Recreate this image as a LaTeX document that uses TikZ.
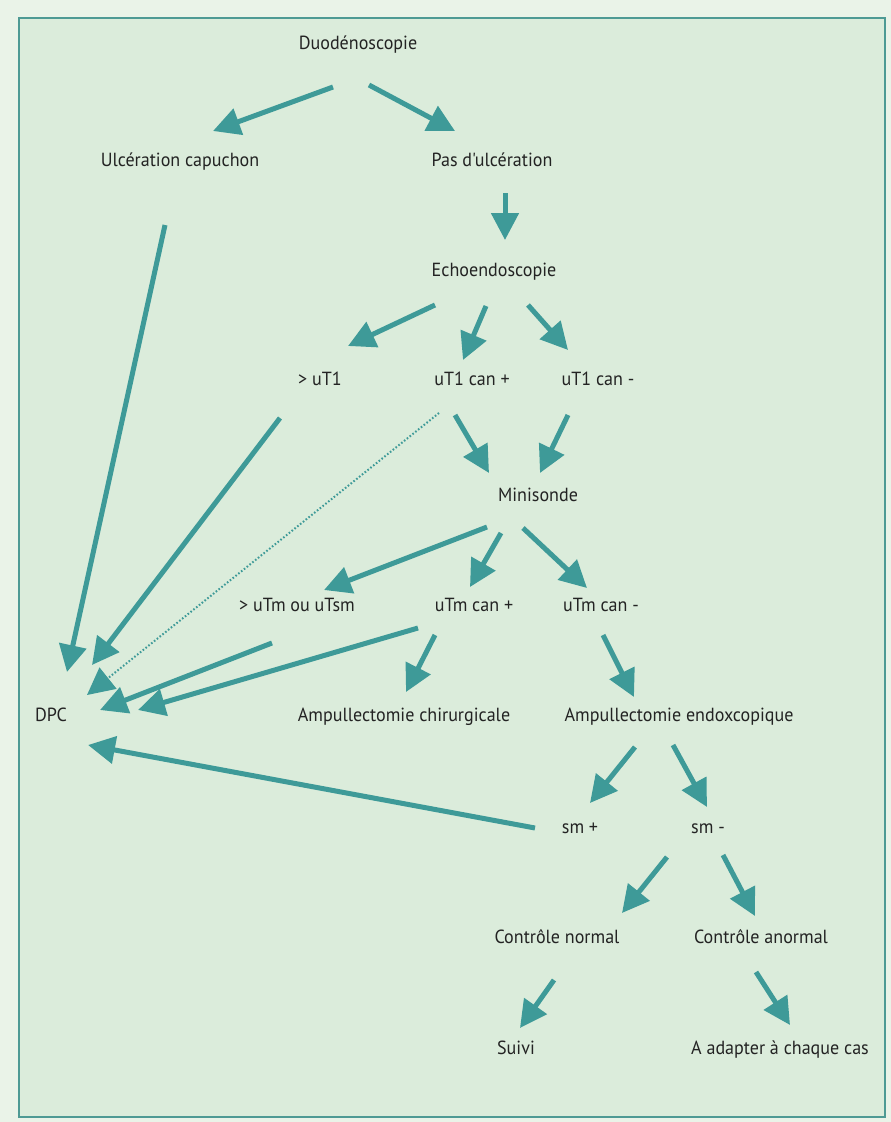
\documentclass[tikz,border=0pt]{standalone}
\usepackage{fontspec}
\newfontfamily\lblfont[FakeStretch=0.95]{PT Sans}
\usetikzlibrary{arrows.meta}
\definecolor{outerbg}{HTML}{EAF3E8}
\definecolor{innerbg}{HTML}{DBECDB}
\definecolor{framec}{HTML}{4E9A94}
\definecolor{arrowc}{HTML}{3E9A98}
\definecolor{textc}{HTML}{232323}
\tikzset{
  lbl/.style={inner sep=0pt, anchor=center, text=textc, font=\lblfont\fontsize{19}{22}\selectfont, text height=13pt, text depth=4pt},
  arr/.style={draw=arrowc, line width=5pt, -{Triangle[length=27pt,width=27pt]}},
  dotarr/.style={draw=arrowc, line width=2pt, dash pattern=on 1.6pt off 2pt, -{Triangle[length=27pt,width=27pt]}}
}
\begin{document}
\begin{tikzpicture}[x=1pt,y=-1pt]
\fill[outerbg] (0,0) rectangle (891,1122);
\useasboundingbox (0,0) rectangle (891,1122);
\fill[innerbg] (19,18) rectangle (885,1117);
\draw[framec, line width=2.5pt] (19,18) rectangle (885,1117);

\node[lbl] (duod) at (358,45) {Duodénoscopie};
\node[lbl] (ulc) at (180,162) {Ulcération capuchon};
\node[lbl] (pas) at (492,162) {Pas d'ulcération};
\node[lbl] (echo) at (494,272) {Echoendoscopie};
\node[lbl] (gtuT1) at (320,381) {> uT1};
\node[lbl] (uT1p) at (472,381) {uT1 can +};
\node[lbl] (uT1m) at (598,381) {uT1 can -};
\node[lbl] (mini) at (538,497) {Minisonde};
\node[lbl] (gtuTm) at (297,607) {> uTm ou uTsm};
\node[lbl] (uTmp) at (474,607) {uTm can +};
\node[lbl] (uTmm) at (601,607) {uTm can -};
\node[lbl] (dpc) at (51,717) {DPC};
\node[lbl] (achir) at (404,717) {Ampullectomie chirurgicale};
\node[lbl] (aendo) at (679,717) {Ampullectomie endoxcopique};
\node[lbl] (smp) at (580,829) {sm +};
\node[lbl] (smm) at (708,829) {sm -};
\node[lbl] (cnorm) at (557,939) {Contrôle normal};
\node[lbl] (canorm) at (761,939) {Contrôle anormal};
\node[lbl] (suivi) at (516,1050) {Suivi};
\node[lbl] (adapt) at (780,1050) {A adapter à chaque cas};

\draw[arr] ([shift={(-25,42)}]duod.center) -- ([shift={(33,-31)}]ulc.center);
\draw[arr] ([shift={(11,40)}]duod.center) -- ([shift={(-37,-31)}]pas.center);
\draw[arr] ([shift={(13,31)}]pas.center) -- ([shift={(11,-32)}]echo.center);
\draw[arr] ([shift={(-15,63)}]ulc.center) -- ([shift={(16,-45)}]dpc.center);
\draw[arr] ([shift={(-59,33)}]echo.center) -- ([shift={(28,-35)}]gtuT1.center);
\draw[arr] ([shift={(-8,34)}]echo.center) -- ([shift={(-9,-21)}]uT1p.center);
\draw[arr] ([shift={(34,33)}]echo.center) -- ([shift={(-30,-31)}]uT1m.center);
\draw[arr] ([shift={(-40,37)}]gtuT1.center) -- ([shift={(41,-52)}]dpc.center);
\draw[dotarr] ([shift={(-33,32)}]uT1p.center) -- ([shift={(36,-22)}]dpc.center);
\draw[arr] ([shift={(-17,34)}]uT1p.center) -- ([shift={(-49,-24)}]mini.center);
\draw[arr] ([shift={(-30,34)}]uT1m.center) -- ([shift={(2,-24)}]mini.center);
\draw[arr] ([shift={(-51,30)}]mini.center) -- ([shift={(27,-17)}]gtuTm.center);
\draw[arr] ([shift={(-37,36)}]mini.center) -- ([shift={(-4,-20)}]uTmp.center);
\draw[arr] ([shift={(-15,31)}]mini.center) -- ([shift={(-14,-19)}]uTmm.center);
\draw[arr] ([shift={(-25,36)}]gtuTm.center) -- ([shift={(49,-7)}]dpc.center);
\draw[arr] ([shift={(-56,21)}]uTmp.center) -- ([shift={(87,-7)}]dpc.center);
\draw[arr] ([shift={(-39,28)}]uTmp.center) -- ([shift={(2,-25)}]achir.center);
\draw[arr] ([shift={(2,28)}]uTmm.center) -- ([shift={(-45,-20)}]aendo.center);
\draw[arr] ([shift={(-44,30)}]aendo.center) -- ([shift={(10,-26)}]smp.center);
\draw[arr] ([shift={(-6,28)}]aendo.center) -- ([shift={(-1,-22)}]smm.center);
\draw[arr] ([shift={(-45,-1)}]smp.center) -- ([shift={(37,28)}]dpc.center);
\draw[arr] ([shift={(-41,28)}]smm.center) -- ([shift={(65,-26)}]cnorm.center);
\draw[arr] ([shift={(15,26)}]smm.center) -- ([shift={(-6,-23)}]canorm.center);
\draw[arr] ([shift={(-3,41)}]cnorm.center) -- ([shift={(4,-22)}]suivi.center);
\draw[arr] ([shift={(-5,33)}]canorm.center) -- ([shift={(10,-25)}]adapt.center);
\end{tikzpicture}
\end{document}
